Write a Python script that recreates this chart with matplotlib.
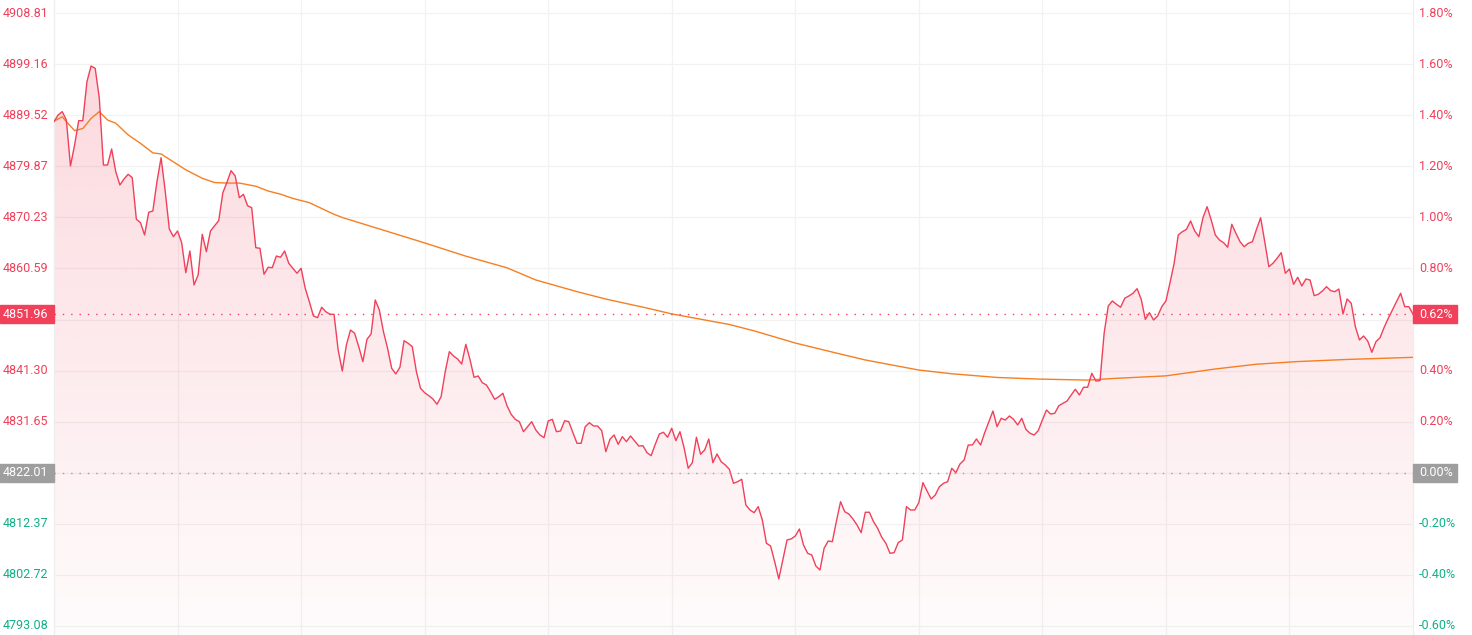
import numpy as np
import matplotlib
matplotlib.use("Agg")
import matplotlib.pyplot as plt
from matplotlib.patches import PathPatch, Rectangle
from matplotlib.transforms import blended_transform_factory

plt.rcParams['font.family'] = ['Roboto', 'DejaVu Sans']

# --- data: one price per minute (331 points), previous close, avg price samples ---
prev_close = 4822.01
last_price = 4851.96

price = [
    4888.29, 4889.55, 4890.18, 4888.61, 4879.93, 4883.89, 4888.48, 4888.48, 4895.84, 4898.80,
    4898.37, 4892.71, 4880.11, 4880.11, 4883.13, 4878.85, 4876.34, 4877.47, 4878.36, 4877.72,
    4869.86, 4869.22, 4866.90, 4871.18, 4871.43, 4876.96, 4881.49, 4875.21, 4868.03, 4866.58,
    4867.65, 4865.44, 4859.78, 4863.88, 4857.46, 4859.35, 4867.03, 4863.75, 4867.65, 4868.65,
    4869.60, 4874.88, 4876.85, 4879.04, 4878.04, 4873.94, 4874.58, 4872.43, 4872.05, 4864.50,
    4864.39, 4859.48, 4860.80, 4860.73, 4862.93, 4862.69, 4863.88, 4861.56, 4860.61, 4859.67,
    4860.61, 4856.84, 4854.31, 4851.61, 4851.29, 4853.25, 4852.42, 4851.93, 4851.93, 4845.19,
    4841.22, 4846.13, 4848.96, 4848.34, 4845.81, 4842.98, 4847.21, 4848.21, 4854.63, 4852.74,
    4848.64, 4845.51, 4841.73, 4840.66, 4841.92, 4846.94, 4846.45, 4845.81, 4841.09, 4837.96,
    4837.13, 4836.56, 4835.94, 4834.94, 4836.37, 4841.09, 4844.87, 4844.06, 4843.49, 4842.54,
    4846.26, 4843.43, 4840.03, 4840.28, 4839.01, 4838.58, 4837.31, 4835.88, 4836.37, 4837.01,
    4834.67, 4833.05, 4832.10, 4831.65, 4829.76, 4830.71, 4831.65, 4830.08, 4829.14, 4828.63,
    4831.78, 4832.10, 4829.76, 4829.90, 4831.84, 4831.65, 4829.58, 4827.57, 4827.57, 4830.71,
    4831.46, 4830.84, 4830.84, 4829.95, 4825.99, 4828.33, 4829.14, 4827.38, 4828.82, 4827.88,
    4828.95, 4828.01, 4827.06, 4827.12, 4825.80, 4825.23, 4827.38, 4829.33, 4829.65, 4828.71,
    4830.41, 4828.07, 4829.76, 4826.74, 4822.85, 4823.91, 4828.71, 4825.50, 4826.31, 4828.39,
    4823.91, 4825.55, 4824.10, 4823.48, 4822.66, 4820.02, 4820.32, 4820.78, 4815.93, 4814.98,
    4814.47, 4815.61, 4813.09, 4808.69, 4808.19, 4805.22, 4801.96, 4805.67, 4809.32, 4809.51,
    4810.07, 4811.39, 4808.37, 4806.81, 4806.49, 4804.41, 4803.65, 4807.75, 4809.13, 4809.00,
    4812.90, 4816.55, 4814.66, 4814.23, 4813.28, 4812.15, 4810.70, 4814.55, 4814.55, 4812.77,
    4811.52, 4809.83, 4808.69, 4806.81, 4806.92, 4808.81, 4809.32, 4815.61, 4814.98, 4814.98,
    4816.36, 4820.14, 4818.57, 4817.06, 4817.81, 4819.38, 4820.02, 4820.32, 4822.85, 4822.02,
    4823.67, 4824.42, 4827.25, 4827.25, 4828.39, 4827.25, 4829.58, 4831.65, 4833.67, 4830.71,
    4832.29, 4831.97, 4832.73, 4832.10, 4831.03, 4832.29, 4830.21, 4829.46, 4829.14, 4829.95,
    4831.97, 4833.86, 4833.10, 4833.23, 4834.67, 4835.12, 4835.56, 4836.69, 4837.77, 4836.69,
    4838.15, 4838.15, 4840.79, 4839.34, 4839.41, 4848.34, 4853.49, 4854.44, 4853.81, 4853.25,
    4854.95, 4855.38, 4855.89, 4856.76, 4854.76, 4850.98, 4852.23, 4850.85, 4851.61, 4853.36,
    4854.44, 4857.89, 4861.56, 4866.90, 4867.52, 4867.97, 4869.54, 4867.65, 4866.58, 4870.16,
    4872.24, 4869.73, 4866.90, 4865.95, 4865.44, 4864.58, 4868.92, 4867.22, 4865.63, 4864.69,
    4865.33, 4865.63, 4867.97, 4870.16, 4865.63, 4860.91, 4861.56, 4862.50, 4863.56, 4859.67,
    4860.48, 4857.59, 4858.91, 4857.27, 4858.59, 4858.40, 4855.44, 4855.70, 4856.33, 4857.14,
    4856.39, 4856.19, 4856.70, 4851.98, 4854.82, 4854.00, 4849.59, 4847.08, 4847.83, 4846.89,
    4844.75, 4846.75, 4847.51, 4849.47, 4851.17, 4852.74, 4854.31, 4855.89, 4853.36, 4853.36,
    4851.96,
]

avg_idx = [0, 2, 3, 5, 7, 9, 11, 13, 15, 18, 21, 24, 26, 29, 32, 36, 39, 42, 45, 49,
           52, 55, 58, 62, 65, 68, 70, 80, 90, 100, 110, 117, 127, 134, 144, 150, 164,
           170, 180, 190, 197, 210, 218, 229, 239, 251, 257, 270, 282, 292, 302, 314, 330]
avg_val = [4888.4, 4889.2, 4888.3, 4886.6, 4887.0, 4888.9, 4890.2, 4888.6, 4888.0, 4885.8,
           4884.2, 4882.4, 4882.2, 4880.7, 4879.2, 4877.6, 4876.8, 4876.7, 4876.7, 4876.1,
           4875.2, 4874.6, 4873.8, 4873.0, 4871.9, 4870.8, 4870.2, 4867.8, 4865.4, 4862.9,
           4860.7, 4858.4, 4856.2, 4854.8, 4853.1, 4852.0, 4850.0, 4848.8, 4846.5, 4844.6,
           4843.3, 4841.4, 4840.7, 4840.0, 4839.7, 4839.5, 4839.8, 4840.3, 4841.6, 4842.5,
           4843.0, 4843.4, 4843.8]

# y axis ticks: prev close +/- n * 0.2%
tick_steps = list(range(-3, 10))

RED = '#f0405a'
GREEN = '#10b088'
GREY = '#9e9e9e'
ORANGE = '#f57f22'

W, H = 1472, 635
fig = plt.figure(figsize=(W / 100, H / 100), dpi=100)
ax = fig.add_axes([54 / W, 0, 1359 / W, 1])

step = prev_close * 0.002
ymin = prev_close - 3 * step - 9 * 0.18879
ymax = prev_close + 9 * step + 13 * 0.18879
x = np.arange(len(price))

# gradient fill under the price line
poly = ax.fill_between(x, price, ymin, facecolor='none', edgecolor='none')
clip = PathPatch(poly.get_paths()[0], facecolor='none', edgecolor='none', transform=ax.transData)
ax.add_patch(clip)
grad = np.zeros((256, 1, 4))
grad[:, 0, 0] = 240 / 255
grad[:, 0, 1] = 64 / 255
grad[:, 0, 2] = 90 / 255
grad[:, 0, 3] = np.linspace(0.02, 0.22, 256)
im = ax.imshow(grad, extent=[0, len(price) - 1, ymin, ymax], aspect='auto',
               origin='lower', zorder=1)
im.set_clip_path(clip)

ax.plot(x, price, color=RED, lw=1.0, zorder=4)
ax.plot(avg_idx, avg_val, color=ORANGE, lw=1.0, zorder=3)

ax.set_xlim(0, len(price) - 1)
ax.set_ylim(ymin, ymax)
ax.set_xticks([])
ax.set_yticks([])

# grid
for k in tick_steps:
    ax.axhline(prev_close + k * step, color='#f2f2f2', lw=0.9, zorder=0.5)
for i in range(30, 330, 30):
    ax.axvline(i, color='#f2f2f2', lw=0.9, zorder=0.5)
for s in ax.spines.values():
    s.set_color('#eeeeee')
    s.set_linewidth(0.9)
ax.spines['top'].set_visible(False)
ax.spines['bottom'].set_visible(False)

ax.axhline(last_price, color=RED, lw=1.0, ls=(0, (1, 5)), zorder=5)
ax.axhline(prev_close, color=GREY, lw=1.0, ls=(0, (1, 5)), zorder=5)

# axis labels
tl = blended_transform_factory(fig.transFigure, ax.transData)
for k in tick_steps:
    v = prev_close + k * step
    pct = k * 0.2
    if k == 0:
        continue
    col = RED if k > 0 else GREEN
    fig.text(48 / W, 0, f'{v:.2f}', transform=tl, ha='right', va='center', fontsize=9,
             color=col) if False else None
    ax.text(48 / W, v, f'{v:.2f}', transform=tl, ha='right', va='center', fontsize=9,
            color=col, clip_on=False)
    ax.text(1419 / W, v, f'{pct:.2f}%', transform=tl, ha='left', va='center', fontsize=9,
            color=col, clip_on=False)


def tag(value, left_text, right_text, color):
    hh = 18 * 0.18879
    ax.add_patch(Rectangle((0, value - hh / 2), 54 / W, hh, transform=tl, color=color,
                           clip_on=False, zorder=10))
    ax.add_patch(Rectangle((1413 / W, value - hh / 2), 44 / W, hh, transform=tl,
                           color=color, clip_on=False, zorder=10))
    ax.text(48 / W, value, left_text, transform=tl, ha='right', va='center', fontsize=9,
            color='white', clip_on=False, zorder=11)
    ax.text(1419 / W, value, right_text, transform=tl, ha='left', va='center', fontsize=9,
            color='white', clip_on=False, zorder=11)


tag(prev_close, f'{prev_close:.2f}', '0.00%', GREY)
last_pct = (last_price / prev_close - 1) * 100
tag(last_price, f'{last_price:.2f}', f'{last_pct:.2f}%', RED)

fig.savefig('out.png', dpi=100)
